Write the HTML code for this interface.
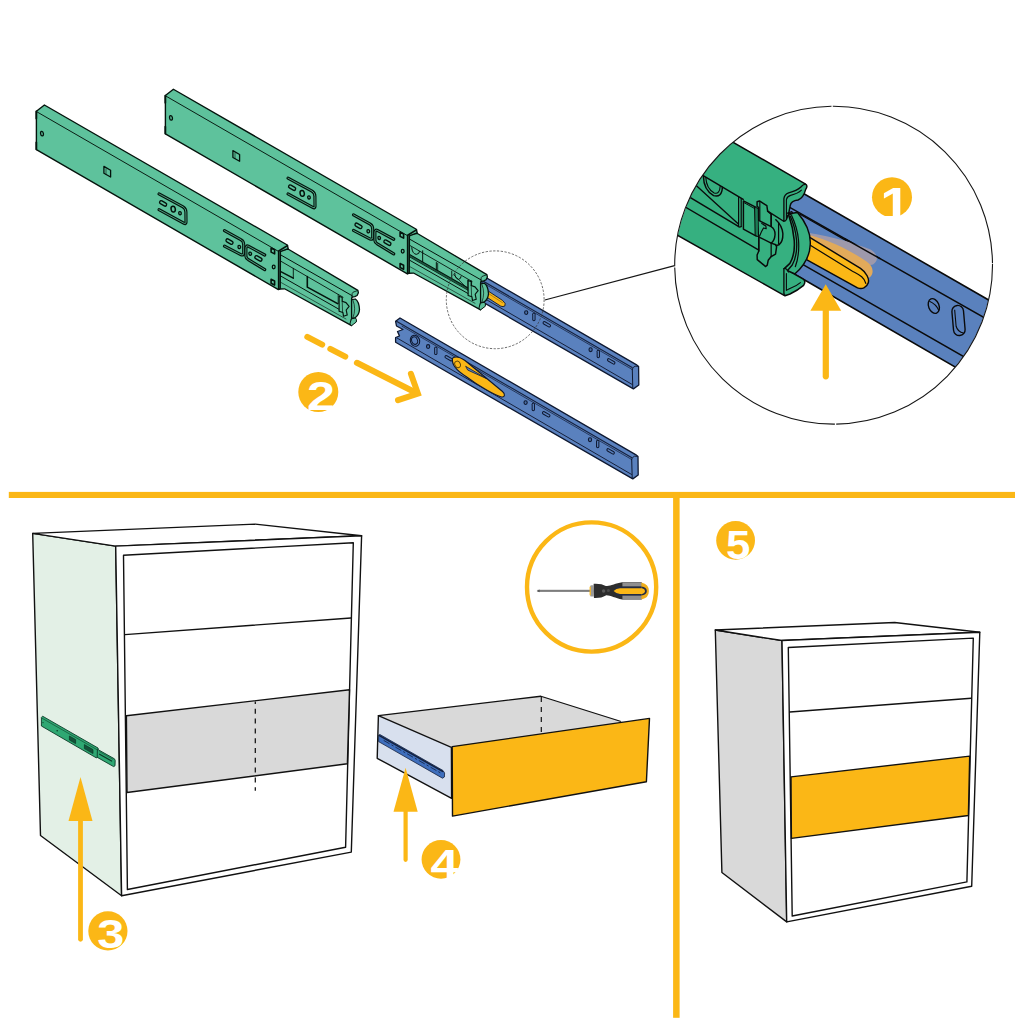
<!DOCTYPE html>
<html lang="en"><head><meta charset="utf-8"><title>Drawer slide installation</title>
<style>
html,body{margin:0;padding:0;background:#fff;}
body{width:1024px;height:1024px;overflow:hidden;font-family:"Liberation Sans",sans-serif;}
svg{display:block;}
.num{font-family:"Liberation Sans",sans-serif;font-weight:700;fill:#fff;}
</style></head><body>
<svg width="1024" height="1024" viewBox="0 0 1024 1024">
<rect width="1024" height="1024" fill="#fff"/>
<rect x="8.8" y="491.9" width="1006.2" height="6.1" fill="#FBB716"/>
<rect x="673.1" y="492" width="6.5" height="525.8" fill="#FBB716"/>
<g id="inner-rail-back" transform="translate(0.6,-90)">
<polygon points="400.00,318.00 635.60,454.60 638.00,456.60 638.20,475.00 632.80,478.90 395.60,342.20 395.60,337.50 399.50,336.00 397.50,331.50 403.00,329.50 396.50,326.00 395.60,321.30" fill="#5A81BE" stroke="#0e1830" stroke-width="1.3" stroke-linejoin="round" />
<polyline points="396.50,321.20 631.50,457.60" fill="none" stroke="#16213d" stroke-width="1.15" stroke-linejoin="round" stroke-linecap="round" />
<polyline points="402.00,326.20 631.50,459.40" fill="none" stroke="#16213d" stroke-width="0.75" stroke-linejoin="round" stroke-linecap="round" />
<polyline points="397.00,338.00 631.50,474.40" fill="none" stroke="#16213d" stroke-width="1.0" stroke-linejoin="round" stroke-linecap="round" />
<path d="M631.5 459.5 Q632 457.2 634.5 456.2 L637.6 456.4" fill="none" stroke="#0e1830" stroke-width="0.9" stroke-linejoin="round" stroke-linecap="round" />
<polyline points="631.70,459.50 632.20,478.20" fill="none" stroke="#0e1830" stroke-width="1.0" stroke-linejoin="round" stroke-linecap="round" />
<ellipse cx="590.00" cy="439.70" rx="1.6" ry="1.9" fill="#4a6fa8" stroke="#0e1830" stroke-width="1.1" transform="rotate(0 590.00 439.70)"/>
<line x1="597.70" y1="441.30" x2="597.70" y2="446.60" stroke="#0e1830" stroke-width="3.30" stroke-linecap="round"/>
<line x1="597.70" y1="441.30" x2="597.70" y2="446.60" stroke="#5A81BE" stroke-width="1.30" stroke-linecap="round"/>
<line x1="608.10" y1="449.96" x2="613.10" y2="452.84" stroke="#0e1830" stroke-width="3.50" stroke-linecap="round"/>
<line x1="608.10" y1="449.96" x2="613.10" y2="452.84" stroke="#5A81BE" stroke-width="1.50" stroke-linecap="round"/>
<ellipse cx="525.60" cy="402.60" rx="1.6" ry="1.9" fill="#4a6fa8" stroke="#0e1830" stroke-width="1.1" transform="rotate(0 525.60 402.60)"/>
<line x1="533.30" y1="404.20" x2="533.30" y2="409.50" stroke="#0e1830" stroke-width="3.30" stroke-linecap="round"/>
<line x1="533.30" y1="404.20" x2="533.30" y2="409.50" stroke="#5A81BE" stroke-width="1.30" stroke-linecap="round"/>
<line x1="543.70" y1="412.86" x2="548.70" y2="415.74" stroke="#0e1830" stroke-width="3.50" stroke-linecap="round"/>
<line x1="543.70" y1="412.86" x2="548.70" y2="415.74" stroke="#5A81BE" stroke-width="1.50" stroke-linecap="round"/>
<ellipse cx="428.10" cy="346.55" rx="1.6" ry="1.9" fill="#4a6fa8" stroke="#0e1830" stroke-width="1.1" transform="rotate(0 428.10 346.55)"/>
<line x1="435.80" y1="348.15" x2="435.80" y2="353.45" stroke="#0e1830" stroke-width="3.30" stroke-linecap="round"/>
<line x1="435.80" y1="348.15" x2="435.80" y2="353.45" stroke="#5A81BE" stroke-width="1.30" stroke-linecap="round"/>
<line x1="446.20" y1="356.81" x2="451.20" y2="359.69" stroke="#0e1830" stroke-width="3.50" stroke-linecap="round"/>
<line x1="446.20" y1="356.81" x2="451.20" y2="359.69" stroke="#5A81BE" stroke-width="1.50" stroke-linecap="round"/>
<ellipse cx="415.00" cy="340.80" rx="4.6" ry="5.6" fill="#5A81BE" stroke="#0e1830" stroke-width="1.1" transform="rotate(-20 415.00 340.80)"/>
<ellipse cx="414.60" cy="340.60" rx="2.9" ry="3.8" fill="#5A81BE" stroke="#0e1830" stroke-width="1.0" transform="rotate(-20 414.60 340.60)"/>
<path d="M480 376.6 L487.8 381.2 L501.9 390.4 Q505.8 393.6 504.4 395.8 Q502.6 397.2 500.2 396.2 L487.1 387.8 L480 383.6 Z" fill="#FBB716" stroke="#0e1830" stroke-width="0.9" stroke-linejoin="round" stroke-linecap="round" />
<polyline points="488.00,383.60 502.00,392.80" fill="none" stroke="#6b4d08" stroke-width="0.5" stroke-linejoin="round" stroke-linecap="round" />
</g>
<g id="slide-back" transform="translate(129,-15.75)">
<polygon points="279.50,250.50 288.00,249.00 357.90,290.40 358.40,292.80 357.10,295.50 354.80,296.70 352.40,297.00 351.60,298.60 351.60,325.60 284.50,288.80 279.50,289.00" fill="#5EC29C" stroke="#04130c" stroke-width="1.3" stroke-linejoin="round" />
<polyline points="279.80,254.40 352.30,295.80" fill="none" stroke="#04130c" stroke-width="1.0" stroke-linejoin="round" stroke-linecap="round" />
<polyline points="279.80,260.60 343.00,297.20" fill="none" stroke="#04130c" stroke-width="0.9" stroke-linejoin="round" stroke-linecap="round" />
<polyline points="279.80,275.50 341.30,310.60" fill="none" stroke="#04130c" stroke-width="1.0" stroke-linejoin="round" stroke-linecap="round" />
<polyline points="279.80,281.80 346.00,319.00" fill="none" stroke="#04130c" stroke-width="0.6" stroke-linejoin="round" stroke-linecap="round" />
<polygon points="279.75,269.81 341.31,304.97 341.31,307.31 279.75,272.16" fill="#2f8f69" stroke="none" stroke-width="1.1" stroke-linejoin="round" />
<polyline points="279.75,269.81 341.31,304.97" fill="none" stroke="#04130c" stroke-width="1.1" stroke-linejoin="round" stroke-linecap="round" />
<polyline points="279.75,272.16 341.31,307.31" fill="none" stroke="#04130c" stroke-width="0.8" stroke-linejoin="round" stroke-linecap="round" />
<polyline points="279.75,271.06 341.31,306.22" fill="none" stroke="#04130c" stroke-width="0.5" stroke-linejoin="round" stroke-linecap="round" />
<path d="M 282.72 263.41 Q 283.34 269.50 287.25 270.12 Q 290.53 269.81 290.53 267.16" fill="none" stroke="#04130c" stroke-width="1.0" stroke-linejoin="round" stroke-linecap="round" />
<path d="M 325.69 289.19 Q 326.31 294.66 329.59 295.12 Q 332.09 294.66 332.09 292.31" fill="none" stroke="#04130c" stroke-width="1.0" stroke-linejoin="round" stroke-linecap="round" />
<polyline points="293.66,266.53 293.66,277.47" fill="none" stroke="#04130c" stroke-width="1.0" stroke-linejoin="round" stroke-linecap="round" />
<polyline points="307.33,278.25 307.33,285.67" fill="none" stroke="#04130c" stroke-width="1.0" stroke-linejoin="round" stroke-linecap="round" />
<polyline points="308.66,279.03 308.66,286.45" fill="none" stroke="#04130c" stroke-width="0.8" stroke-linejoin="round" stroke-linecap="round" />
<polyline points="322.72,286.84 322.72,294.50" fill="none" stroke="#04130c" stroke-width="0.9" stroke-linejoin="round" stroke-linecap="round" />
<polyline points="324.91,290.75 337.41,303.25" fill="none" stroke="#04130c" stroke-width="0.8" stroke-linejoin="round" stroke-linecap="round" />
<polyline points="338.97,295.83 338.97,305.98" fill="none" stroke="#04130c" stroke-width="0.9" stroke-linejoin="round" stroke-linecap="round" />
<polyline points="342.25,297.16 342.25,308.09" fill="none" stroke="#04130c" stroke-width="1.6" stroke-linejoin="round" stroke-linecap="round" />
<polygon points="339.10,296.20 342.20,297.50 342.20,301.20 346.00,302.60 349.10,306.30 346.20,310.00 347.20,315.00 343.50,316.20 342.90,312.50 339.10,311.20" fill="#5EC29C" stroke="#04130c" stroke-width="1.2" stroke-linejoin="round" />
<polyline points="342.20,301.20 342.60,312.40" fill="none" stroke="#04130c" stroke-width="0.7" stroke-linejoin="round" stroke-linecap="round" />
<path d="M351.8 297.4 L352.2 293.4 Q352.6 292.2 354 291.8 L357.6 290.6" fill="none" stroke="#04130c" stroke-width="0.8" stroke-linejoin="round" stroke-linecap="round" />
<path d="M351.6 299.6 L355.4 299.0 Q359.0 301.4 359.5 309.4 Q359.2 314.6 355.4 317.6 L351.6 318.6 Z" fill="#5EC29C" stroke="#04130c" stroke-width="1.25" stroke-linejoin="round" stroke-linecap="round" />
<path d="M353.0 300.4 Q356.4 308.6 353.0 317.6" fill="none" stroke="#04130c" stroke-width="0.7" stroke-linejoin="round" stroke-linecap="round" />
<path d="M351.6 318.8 L355.5 318.0 Q357.0 319.4 356.3 322.0 L351.6 325.6 L350.2 324.4 Z" fill="#5EC29C" stroke="#04130c" stroke-width="1.0" stroke-linejoin="round" stroke-linecap="round" />
<polygon points="36.40,149.60 36.40,111.20 44.40,105.00 287.30,245.00 288.20,248.60 280.40,251.60 280.20,288.60 278.40,289.60" fill="#5EC29C" stroke="#04130c" stroke-width="1.4" stroke-linejoin="round" />
<polyline points="37.20,112.00 278.50,251.40" fill="none" stroke="#04130c" stroke-width="0.95" stroke-linejoin="round" stroke-linecap="round" />
<polyline points="287.40,245.60 278.70,251.00 278.70,289.20" fill="none" stroke="#04130c" stroke-width="1.7" stroke-linejoin="round" stroke-linecap="round" />
<polyline points="36.30,111.50 36.30,118.50" fill="none" stroke="#04130c" stroke-width="1.8" stroke-linejoin="round" stroke-linecap="round" />
<polyline points="36.30,142.50 36.30,149.30" fill="none" stroke="#04130c" stroke-width="1.8" stroke-linejoin="round" stroke-linecap="round" />
<ellipse cx="42.00" cy="133.60" rx="1.4" ry="2.3" fill="#5EC29C" stroke="#04130c" stroke-width="1.3" transform="rotate(-10 42.00 133.60)"/>
<polygon points="103.90,166.40 110.60,170.20 110.60,177.00 103.90,173.20" fill="#5EC29C" stroke="#04130c" stroke-width="1.3" stroke-linejoin="round" />
<polyline points="106.00,168.80 106.00,174.20" fill="none" stroke="#04130c" stroke-width="0.6" stroke-linejoin="round" stroke-linecap="round" />
<path d="M159.0 193.9 L183.0 206.8 Q185.9 208.5 185.9 212.0 L186.0 222.2 Q185.9 224.4 183.7 223.1 L159.0 209.7" fill="none" stroke="#04130c" stroke-width="3.15" stroke-linecap="round" stroke-linejoin="round"/>
<path d="M159.0 193.9 L183.0 206.8 Q185.9 208.5 185.9 212.0 L186.0 222.2 Q185.9 224.4 183.7 223.1 L159.0 209.7" fill="none" stroke="#5EC29C" stroke-width="0.8" stroke-linecap="round" stroke-linejoin="round"/>
<line x1="161.15" y1="202.27" x2="165.05" y2="204.53" stroke="#04130c" stroke-width="4.50" stroke-linecap="round"/>
<line x1="161.15" y1="202.27" x2="165.05" y2="204.53" stroke="#5EC29C" stroke-width="1.80" stroke-linecap="round"/>
<ellipse cx="173.20" cy="209.10" rx="2.1" ry="2.9" fill="#5EC29C" stroke="#04130c" stroke-width="1.5" transform="rotate(-12 173.20 209.10)"/>
<ellipse cx="180.00" cy="213.20" rx="1.3" ry="1.6" fill="#5EC29C" stroke="#04130c" stroke-width="1.35" transform="rotate(-12 180.00 213.20)"/>
<path d="M224.5 230.6 L241.2 239.8 Q243.7 241.2 243.7 244.7 L243.7 253.3 Q243.6 255.6 241.2 254.8 L224.5 246.2" fill="none" stroke="#04130c" stroke-width="3.15" stroke-linecap="round" stroke-linejoin="round"/>
<path d="M224.5 230.6 L241.2 239.8 Q243.7 241.2 243.7 244.7 L243.7 253.3 Q243.6 255.6 241.2 254.8 L224.5 246.2" fill="none" stroke="#5EC29C" stroke-width="0.8" stroke-linecap="round" stroke-linejoin="round"/>
<path d="M264.7 255.0 L248.3 246.2 Q246.0 245.1 245.9 248.6 L245.9 256.4 Q246.0 258.4 248.3 259.6 L264.7 269.6" fill="none" stroke="#04130c" stroke-width="3.15" stroke-linecap="round" stroke-linejoin="round"/>
<path d="M264.7 255.0 L248.3 246.2 Q246.0 245.1 245.9 248.6 L245.9 256.4 Q246.0 258.4 248.3 259.6 L264.7 269.6" fill="none" stroke="#5EC29C" stroke-width="0.8" stroke-linecap="round" stroke-linejoin="round"/>
<line x1="227.55" y1="240.47" x2="231.45" y2="242.73" stroke="#04130c" stroke-width="4.50" stroke-linecap="round"/>
<line x1="227.55" y1="240.47" x2="231.45" y2="242.73" stroke="#5EC29C" stroke-width="1.80" stroke-linecap="round"/>
<ellipse cx="239.30" cy="247.00" rx="1.3" ry="1.6" fill="#5EC29C" stroke="#04130c" stroke-width="1.35" transform="rotate(-12 239.30 247.00)"/>
<ellipse cx="250.20" cy="253.70" rx="1.3" ry="1.6" fill="#5EC29C" stroke="#04130c" stroke-width="1.35" transform="rotate(-12 250.20 253.70)"/>
<line x1="256.45" y1="257.27" x2="260.35" y2="259.53" stroke="#04130c" stroke-width="4.50" stroke-linecap="round"/>
<line x1="256.45" y1="257.27" x2="260.35" y2="259.53" stroke="#5EC29C" stroke-width="1.80" stroke-linecap="round"/>
<polygon points="271.10,248.00 274.60,249.80 274.60,253.90 271.10,252.10" fill="#5EC29C" stroke="#04130c" stroke-width="1.6" stroke-linejoin="round" />
<ellipse cx="273.70" cy="267.00" rx="1.4" ry="1.8" fill="#5EC29C" stroke="#04130c" stroke-width="1.3" transform="rotate(0 273.70 267.00)"/>
<polygon points="271.10,279.30 274.60,281.00 274.60,285.10 271.10,283.30" fill="#5EC29C" stroke="#04130c" stroke-width="1.6" stroke-linejoin="round" />
</g>
<g id="slide-front" transform="translate(0,0)">
<polygon points="279.50,250.50 288.00,249.00 357.90,290.40 358.40,292.80 357.10,295.50 354.80,296.70 352.40,297.00 351.60,298.60 351.60,325.60 284.50,288.80 279.50,289.00" fill="#5EC29C" stroke="#04130c" stroke-width="1.3" stroke-linejoin="round" />
<polyline points="279.80,254.40 352.30,295.80" fill="none" stroke="#04130c" stroke-width="1.0" stroke-linejoin="round" stroke-linecap="round" />
<polyline points="279.80,260.60 343.00,297.20" fill="none" stroke="#04130c" stroke-width="0.9" stroke-linejoin="round" stroke-linecap="round" />
<polyline points="279.80,275.50 341.30,310.60" fill="none" stroke="#04130c" stroke-width="1.0" stroke-linejoin="round" stroke-linecap="round" />
<polyline points="279.80,281.80 346.00,319.00" fill="none" stroke="#04130c" stroke-width="0.6" stroke-linejoin="round" stroke-linecap="round" />
<polyline points="279.80,271.20 293.30,278.10" fill="none" stroke="#04130c" stroke-width="1.5" stroke-linejoin="round" stroke-linecap="round" />
<polyline points="293.30,278.10 293.30,268.30" fill="none" stroke="#04130c" stroke-width="0.9" stroke-linejoin="round" stroke-linecap="round" />
<polyline points="338.20,294.60 338.20,303.60" fill="none" stroke="#04130c" stroke-width="0.8" stroke-linejoin="round" stroke-linecap="round" />
<polyline points="307.30,276.60 307.30,287.10 337.60,303.60" fill="none" stroke="#04130c" stroke-width="1.6" stroke-linejoin="round" stroke-linecap="round" />
<polygon points="339.10,296.20 342.20,297.50 342.20,301.20 346.00,302.60 349.10,306.30 346.20,310.00 347.20,315.00 343.50,316.20 342.90,312.50 339.10,311.20" fill="#5EC29C" stroke="#04130c" stroke-width="1.2" stroke-linejoin="round" />
<polyline points="342.20,301.20 342.60,312.40" fill="none" stroke="#04130c" stroke-width="0.7" stroke-linejoin="round" stroke-linecap="round" />
<path d="M351.8 297.4 L352.2 293.4 Q352.6 292.2 354 291.8 L357.6 290.6" fill="none" stroke="#04130c" stroke-width="0.8" stroke-linejoin="round" stroke-linecap="round" />
<path d="M351.6 299.6 L355.4 299.0 Q359.0 301.4 359.5 309.4 Q359.2 314.6 355.4 317.6 L351.6 318.6 Z" fill="#5EC29C" stroke="#04130c" stroke-width="1.25" stroke-linejoin="round" stroke-linecap="round" />
<path d="M353.0 300.4 Q356.4 308.6 353.0 317.6" fill="none" stroke="#04130c" stroke-width="0.7" stroke-linejoin="round" stroke-linecap="round" />
<path d="M351.6 318.8 L355.5 318.0 Q357.0 319.4 356.3 322.0 L351.6 325.6 L350.2 324.4 Z" fill="#5EC29C" stroke="#04130c" stroke-width="1.0" stroke-linejoin="round" stroke-linecap="round" />
<polygon points="36.40,149.60 36.40,111.20 44.40,105.00 287.30,245.00 288.20,248.60 280.40,251.60 280.20,288.60 278.40,289.60" fill="#5EC29C" stroke="#04130c" stroke-width="1.4" stroke-linejoin="round" />
<polyline points="37.20,112.00 278.50,251.40" fill="none" stroke="#04130c" stroke-width="0.95" stroke-linejoin="round" stroke-linecap="round" />
<polyline points="287.40,245.60 278.70,251.00 278.70,289.20" fill="none" stroke="#04130c" stroke-width="1.7" stroke-linejoin="round" stroke-linecap="round" />
<polyline points="36.30,111.50 36.30,118.50" fill="none" stroke="#04130c" stroke-width="1.8" stroke-linejoin="round" stroke-linecap="round" />
<polyline points="36.30,142.50 36.30,149.30" fill="none" stroke="#04130c" stroke-width="1.8" stroke-linejoin="round" stroke-linecap="round" />
<ellipse cx="42.00" cy="133.60" rx="1.4" ry="2.3" fill="#5EC29C" stroke="#04130c" stroke-width="1.3" transform="rotate(-10 42.00 133.60)"/>
<polygon points="103.90,166.40 110.60,170.20 110.60,177.00 103.90,173.20" fill="#5EC29C" stroke="#04130c" stroke-width="1.3" stroke-linejoin="round" />
<polyline points="106.00,168.80 106.00,174.20" fill="none" stroke="#04130c" stroke-width="0.6" stroke-linejoin="round" stroke-linecap="round" />
<path d="M159.0 193.9 L183.0 206.8 Q185.9 208.5 185.9 212.0 L186.0 222.2 Q185.9 224.4 183.7 223.1 L159.0 209.7" fill="none" stroke="#04130c" stroke-width="3.15" stroke-linecap="round" stroke-linejoin="round"/>
<path d="M159.0 193.9 L183.0 206.8 Q185.9 208.5 185.9 212.0 L186.0 222.2 Q185.9 224.4 183.7 223.1 L159.0 209.7" fill="none" stroke="#5EC29C" stroke-width="0.8" stroke-linecap="round" stroke-linejoin="round"/>
<line x1="161.15" y1="202.27" x2="165.05" y2="204.53" stroke="#04130c" stroke-width="4.50" stroke-linecap="round"/>
<line x1="161.15" y1="202.27" x2="165.05" y2="204.53" stroke="#5EC29C" stroke-width="1.80" stroke-linecap="round"/>
<ellipse cx="173.20" cy="209.10" rx="2.1" ry="2.9" fill="#5EC29C" stroke="#04130c" stroke-width="1.5" transform="rotate(-12 173.20 209.10)"/>
<ellipse cx="180.00" cy="213.20" rx="1.3" ry="1.6" fill="#5EC29C" stroke="#04130c" stroke-width="1.35" transform="rotate(-12 180.00 213.20)"/>
<path d="M224.5 230.6 L241.2 239.8 Q243.7 241.2 243.7 244.7 L243.7 253.3 Q243.6 255.6 241.2 254.8 L224.5 246.2" fill="none" stroke="#04130c" stroke-width="3.15" stroke-linecap="round" stroke-linejoin="round"/>
<path d="M224.5 230.6 L241.2 239.8 Q243.7 241.2 243.7 244.7 L243.7 253.3 Q243.6 255.6 241.2 254.8 L224.5 246.2" fill="none" stroke="#5EC29C" stroke-width="0.8" stroke-linecap="round" stroke-linejoin="round"/>
<path d="M264.7 255.0 L248.3 246.2 Q246.0 245.1 245.9 248.6 L245.9 256.4 Q246.0 258.4 248.3 259.6 L264.7 269.6" fill="none" stroke="#04130c" stroke-width="3.15" stroke-linecap="round" stroke-linejoin="round"/>
<path d="M264.7 255.0 L248.3 246.2 Q246.0 245.1 245.9 248.6 L245.9 256.4 Q246.0 258.4 248.3 259.6 L264.7 269.6" fill="none" stroke="#5EC29C" stroke-width="0.8" stroke-linecap="round" stroke-linejoin="round"/>
<line x1="227.55" y1="240.47" x2="231.45" y2="242.73" stroke="#04130c" stroke-width="4.50" stroke-linecap="round"/>
<line x1="227.55" y1="240.47" x2="231.45" y2="242.73" stroke="#5EC29C" stroke-width="1.80" stroke-linecap="round"/>
<ellipse cx="239.30" cy="247.00" rx="1.3" ry="1.6" fill="#5EC29C" stroke="#04130c" stroke-width="1.35" transform="rotate(-12 239.30 247.00)"/>
<ellipse cx="250.20" cy="253.70" rx="1.3" ry="1.6" fill="#5EC29C" stroke="#04130c" stroke-width="1.35" transform="rotate(-12 250.20 253.70)"/>
<line x1="256.45" y1="257.27" x2="260.35" y2="259.53" stroke="#04130c" stroke-width="4.50" stroke-linecap="round"/>
<line x1="256.45" y1="257.27" x2="260.35" y2="259.53" stroke="#5EC29C" stroke-width="1.80" stroke-linecap="round"/>
<polygon points="271.10,248.00 274.60,249.80 274.60,253.90 271.10,252.10" fill="#5EC29C" stroke="#04130c" stroke-width="1.6" stroke-linejoin="round" />
<ellipse cx="273.70" cy="267.00" rx="1.4" ry="1.8" fill="#5EC29C" stroke="#04130c" stroke-width="1.3" transform="rotate(0 273.70 267.00)"/>
<polygon points="271.10,279.30 274.60,281.00 274.60,285.10 271.10,283.30" fill="#5EC29C" stroke="#04130c" stroke-width="1.6" stroke-linejoin="round" />
</g>
<g id="inner-rail-front" transform="translate(0,0)">
<polygon points="400.00,318.00 635.60,454.60 638.00,456.60 638.20,475.00 632.80,478.90 395.60,342.20 395.60,337.50 399.50,336.00 397.50,331.50 403.00,329.50 396.50,326.00 395.60,321.30" fill="#5A81BE" stroke="#0e1830" stroke-width="1.3" stroke-linejoin="round" />
<polyline points="396.50,321.20 631.50,457.60" fill="none" stroke="#16213d" stroke-width="1.15" stroke-linejoin="round" stroke-linecap="round" />
<polyline points="402.00,326.20 631.50,459.40" fill="none" stroke="#16213d" stroke-width="0.75" stroke-linejoin="round" stroke-linecap="round" />
<polyline points="397.00,338.00 631.50,474.40" fill="none" stroke="#16213d" stroke-width="1.0" stroke-linejoin="round" stroke-linecap="round" />
<path d="M631.5 459.5 Q632 457.2 634.5 456.2 L637.6 456.4" fill="none" stroke="#0e1830" stroke-width="0.9" stroke-linejoin="round" stroke-linecap="round" />
<polyline points="631.70,459.50 632.20,478.20" fill="none" stroke="#0e1830" stroke-width="1.0" stroke-linejoin="round" stroke-linecap="round" />
<ellipse cx="590.00" cy="439.70" rx="1.6" ry="1.9" fill="#4a6fa8" stroke="#0e1830" stroke-width="1.1" transform="rotate(0 590.00 439.70)"/>
<line x1="597.70" y1="441.30" x2="597.70" y2="446.60" stroke="#0e1830" stroke-width="3.30" stroke-linecap="round"/>
<line x1="597.70" y1="441.30" x2="597.70" y2="446.60" stroke="#5A81BE" stroke-width="1.30" stroke-linecap="round"/>
<line x1="608.10" y1="449.96" x2="613.10" y2="452.84" stroke="#0e1830" stroke-width="3.50" stroke-linecap="round"/>
<line x1="608.10" y1="449.96" x2="613.10" y2="452.84" stroke="#5A81BE" stroke-width="1.50" stroke-linecap="round"/>
<ellipse cx="525.60" cy="402.60" rx="1.6" ry="1.9" fill="#4a6fa8" stroke="#0e1830" stroke-width="1.1" transform="rotate(0 525.60 402.60)"/>
<line x1="533.30" y1="404.20" x2="533.30" y2="409.50" stroke="#0e1830" stroke-width="3.30" stroke-linecap="round"/>
<line x1="533.30" y1="404.20" x2="533.30" y2="409.50" stroke="#5A81BE" stroke-width="1.30" stroke-linecap="round"/>
<line x1="543.70" y1="412.86" x2="548.70" y2="415.74" stroke="#0e1830" stroke-width="3.50" stroke-linecap="round"/>
<line x1="543.70" y1="412.86" x2="548.70" y2="415.74" stroke="#5A81BE" stroke-width="1.50" stroke-linecap="round"/>
<ellipse cx="428.10" cy="346.55" rx="1.6" ry="1.9" fill="#4a6fa8" stroke="#0e1830" stroke-width="1.1" transform="rotate(0 428.10 346.55)"/>
<line x1="435.80" y1="348.15" x2="435.80" y2="353.45" stroke="#0e1830" stroke-width="3.30" stroke-linecap="round"/>
<line x1="435.80" y1="348.15" x2="435.80" y2="353.45" stroke="#5A81BE" stroke-width="1.30" stroke-linecap="round"/>
<line x1="446.20" y1="356.81" x2="451.20" y2="359.69" stroke="#0e1830" stroke-width="3.50" stroke-linecap="round"/>
<line x1="446.20" y1="356.81" x2="451.20" y2="359.69" stroke="#5A81BE" stroke-width="1.50" stroke-linecap="round"/>
<ellipse cx="415.00" cy="340.80" rx="4.6" ry="5.6" fill="#5A81BE" stroke="#0e1830" stroke-width="1.1" transform="rotate(-20 415.00 340.80)"/>
<ellipse cx="414.60" cy="340.60" rx="2.9" ry="3.8" fill="#5A81BE" stroke="#0e1830" stroke-width="1.0" transform="rotate(-20 414.60 340.60)"/>
<path d="M452.6 358.2 C455.5 355.8 460.5 357.5 465 360.5 L502.5 391.5 C505.5 394 505 397.5 501.5 397 C495 395.5 478 385.5 466 376.5 C458 371.5 451 365 452.6 358.2 Z" fill="#FBB716" stroke="#0e1830" stroke-width="1.1" stroke-linejoin="round" stroke-linecap="round" />
<ellipse cx="457.60" cy="364.40" rx="2.7" ry="3.4" fill="#FBB716" stroke="#5a4208" stroke-width="0.9" transform="rotate(-25 457.60 364.40)"/>
<path d="M466 366.5 L487 378.8 L468 370.2 Z" fill="#5A81BE" stroke="#0e1830" stroke-width="0.8" stroke-linejoin="round" stroke-linecap="round" />
</g>
<circle cx="495.2" cy="299.8" r="48.9" fill="none" stroke="#3a3a3a" stroke-width="0.75" stroke-dasharray="2.3 1.5"/>
<line x1="544.8" y1="300" x2="674.6" y2="265.7" stroke="#151515" stroke-width="1.2"/>
<g id="arrow2" stroke="#FBB716" stroke-width="6" stroke-linecap="round" fill="none">
<line x1="307.3" y1="336.9" x2="322.2" y2="344.7"/>
<line x1="330.3" y1="348.8" x2="345.3" y2="356.6"/>
<line x1="356.9" y1="362.8" x2="416" y2="392.8"/>
<polyline points="410.9,373.8 417.9,393.6 398,400.2" stroke-linejoin="miter"/>
</g>
<defs><clipPath id="dc"><circle cx="833.6" cy="265.2" r="158.6"/></clipPath></defs>
<circle cx="833.6" cy="265.2" r="158.9" fill="#fff"/>
<g id="detail" clip-path="url(#dc)">
<polygon points="780.00,180.00 1000.00,306.50 1000.00,393.00 780.00,265.70" fill="#5A81BD" stroke="#0a0a0a" stroke-width="1.59" stroke-linejoin="round" />
<polyline points="788.00,206.40 1000.00,326.60" fill="none" stroke="#0a0a0a" stroke-width="1.46" stroke-linejoin="round" stroke-linecap="round" />
<polyline points="800.00,214.20 862.00,249.60" fill="none" stroke="#0a0a0a" stroke-width="1.22" stroke-linejoin="round" stroke-linecap="round" />
<polyline points="800.00,262.80 1000.00,377.40" fill="none" stroke="#0a0a0a" stroke-width="1.46" stroke-linejoin="round" stroke-linecap="round" />
<g transform="rotate(-22 933.8 306)"><ellipse cx="933.8" cy="306" rx="5.2" ry="7.6" fill="#5A81BD" stroke="#0a0a0a" stroke-width="1.4"/><path d="M931.5 300 Q936.5 305 936.8 312" fill="none" stroke="#0a0a0a" stroke-width="1.1"/></g>
<g transform="rotate(-5 958.4 320.4)"><rect x="952.7" y="305.4" width="11.6" height="30.2" rx="5.8" fill="#5A81BD" stroke="#0a0a0a" stroke-width="1.4"/><path d="M955.6 309.5 L955.6 326 Q956.8 332 962.4 333.4" fill="none" stroke="#0a0a0a" stroke-width="1.1"/></g>
<path d="M809.5 233.0 C832 236.5 856 243.5 870.5 249.5 C877.5 253.5 879.5 260.5 873.0 264.6 C868 266 862 262 850 256 L809.5 240 Z" fill="#9e99ab" stroke="none" stroke-width="1.0" stroke-linejoin="round" stroke-linecap="round" />
<path d="M809.5 235.0 C832 241 852 251.5 866.5 261.5 C873.5 266 874.5 273.5 869.5 277.6 C865 279.5 859 276 850 270 L809.5 246 Z" fill="#e2aa5a" stroke="none" stroke-width="1.0" stroke-linejoin="round" stroke-linecap="round" />
<polyline points="845.00,238.80 880.00,258.60" fill="none" stroke="#0a0a0a" stroke-width="1.46" stroke-linejoin="round" stroke-linecap="round" />
<path d="M808.5 236.6 L860.5 268.4 C866.5 272.5 869.6 279 868.2 283 C866.6 287.6 862 289.8 857.5 287.8 L806.5 259.6 Z" fill="#FBB716" stroke="#0a0a0a" stroke-width="1.46" stroke-linejoin="round" stroke-linecap="round" />
<path d="M809.5 244.8 L852.5 271.2 C858.5 274.5 864.5 277 865.8 283.4" fill="none" stroke="#0a0a0a" stroke-width="1.22" stroke-linejoin="round" stroke-linecap="round" />
<path d="M660 100.2 L805.2 183.8 Q808.4 185.6 805.6 189.6 Q803.6 197.6 798 200 Q791 200.6 790.2 205.6 L788.6 213.8 L797.5 212.5 Q811.5 229 810.2 245 Q809.5 261 795 273.8 L787.5 270.6 L794 273.8 L802.4 278.6 Q806.6 281.0 803.6 285.4 Q798 290.2 790 294 L785 295.8 L660 225.5 Z" fill="#36B080" stroke="#0a0a0a" stroke-width="1.45" stroke-linejoin="round" stroke-linecap="round" />
<path d="M783.9 220.6 L783.9 198.6 Q784.4 194.4 788.6 192.8 Q797 190.6 800.6 187.2 Q803 184.4 805.4 184.2" fill="none" stroke="#0a0a0a" stroke-width="1.34" stroke-linejoin="round" stroke-linecap="round" />
<path d="M786.4 219.4 L786.4 199.6 Q787 196.4 790.6 195.4 Q798 193.6 801.4 190.2" fill="none" stroke="#0a0a0a" stroke-width="1.1" stroke-linejoin="round" stroke-linecap="round" />
<path d="M783.9 220.6 Q785 222 786.6 219.2 L788.6 213.8" fill="none" stroke="#0a0a0a" stroke-width="1.22" stroke-linejoin="round" stroke-linecap="round" />
<path d="M783.9 268.6 L783.9 293.4 Q784 295.6 785.6 295.4" fill="none" stroke="#0a0a0a" stroke-width="1.34" stroke-linejoin="round" stroke-linecap="round" />
<path d="M786.4 273.6 L786.4 290.4 Q788 289.4 791 288.0 Q797 285.6 800.4 282.6" fill="none" stroke="#0a0a0a" stroke-width="1.1" stroke-linejoin="round" stroke-linecap="round" />
<path d="M783.9 268.6 Q786 267.6 788.6 272" fill="none" stroke="#0a0a0a" stroke-width="1.22" stroke-linejoin="round" stroke-linecap="round" />
<path d="M 789.12 216.56 Q 793.03 227.50 794.20 240.00 Q 795.38 254.06 789.91 263.44 L 784.83 268.12" fill="none" stroke="#0a0a0a" stroke-width="1.59" stroke-linejoin="round" stroke-linecap="round" />
<path d="M 790.30 216.17 Q 795.38 227.50 796.55 240.00 Q 797.72 254.84 792.25 265.00 L 787.95 270.00" fill="none" stroke="#0a0a0a" stroke-width="1.34" stroke-linejoin="round" stroke-linecap="round" />
<path d="M 791.62 215.62 Q 797.33 227.50 798.50 240.00 Q 799.67 254.84 795.38 266.56" fill="none" stroke="#0a0a0a" stroke-width="1.22" stroke-linejoin="round" stroke-linecap="round" />
<path d="M 786.78 213.44 L 791.86 211.72 L 792.64 213.44 L 787.56 215.78" fill="none" stroke="#0a0a0a" stroke-width="1.34" stroke-linejoin="round" stroke-linecap="round" />
<polyline points="660.00,150.60 703.20,175.60 743.20,199.40" fill="none" stroke="#0a0a0a" stroke-width="1.46" stroke-linejoin="round" stroke-linecap="round" />
<polyline points="660.00,179.40 738.40,226.40" fill="none" stroke="#0a0a0a" stroke-width="1.46" stroke-linejoin="round" stroke-linecap="round" />
<polyline points="694.00,183.40 738.40,224.00" fill="none" stroke="#0a0a0a" stroke-width="1.34" stroke-linejoin="round" stroke-linecap="round" />
<polyline points="660.00,192.20 758.40,249.80" fill="none" stroke="#0a0a0a" stroke-width="1.46" stroke-linejoin="round" stroke-linecap="round" />
<path d="M738.6 197.2 L738.6 226.6 M741.2 198.6 L741.2 226.6" fill="none" stroke="#0a0a0a" stroke-width="1.22" stroke-linejoin="round" stroke-linecap="round" />
<path d="M738.4 226.4 Q739.6 227.6 741.2 226.6" fill="none" stroke="#0a0a0a" stroke-width="1.22" stroke-linejoin="round" stroke-linecap="round" />
<path d="M703.4 176 Q703.6 190 713.6 195.6 Q721.8 198 722.4 187.2" fill="none" stroke="#0a0a0a" stroke-width="1.46" stroke-linejoin="round" stroke-linecap="round" />
<path d="M705.8 177.6 Q706.4 188.6 714.2 193.0 Q719.6 194.8 720.2 186.2" fill="none" stroke="#0a0a0a" stroke-width="1.1" stroke-linejoin="round" stroke-linecap="round" />
<polygon points="743.42,200.94 755.14,206.80 756.31,236.09 743.42,229.06" fill="#36B080" stroke="#0a0a0a" stroke-width="1.46" stroke-linejoin="round" />
<polygon points="754.59,206.72 758.34,208.75 758.50,236.88 755.14,235.31" fill="#1b7d55" stroke="#0a0a0a" stroke-width="0.98" stroke-linejoin="round" />
<polyline points="744.44,202.89 754.75,208.59" fill="none" stroke="#0a0a0a" stroke-width="0.98" stroke-linejoin="round" stroke-linecap="round" />
<polygon points="757.09,201.72 759.44,200.94 766.86,205.62 767.64,211.09 771.16,214.22 771.16,243.12 775.84,244.69 776.62,246.64 775.53,254.06 771.16,256.56 768.19,260.31 767.25,265.16 765.69,266.56 757.25,259.69 757.09,255.00 758.81,250.94 758.66,207.34 757.09,206.56" fill="#36B080" stroke="#0a0a0a" stroke-width="1.46" stroke-linejoin="round" />
<polyline points="759.83,201.72 759.83,220.47" fill="none" stroke="#0a0a0a" stroke-width="1.1" stroke-linejoin="round" stroke-linecap="round" />
<polyline points="771.16,214.22 771.16,256.56" fill="none" stroke="#0a0a0a" stroke-width="1.22" stroke-linejoin="round" stroke-linecap="round" />
<polyline points="758.81,236.88 758.81,250.94" fill="none" stroke="#0a0a0a" stroke-width="1.22" stroke-linejoin="round" stroke-linecap="round" />
<path d="M 758.66 220.47 L 771.16 226.72 Q 775.06 229.06 775.06 234.53 Q 774.67 240.78 771.16 243.12 L 759.12 237.03" fill="#36B080" stroke="#0a0a0a" stroke-width="1.46" stroke-linejoin="round" stroke-linecap="round" />
<path d="M 761.78 223.59 L 765.84 225.94 L 766.16 228.75 L 763.50 227.97 Q 761.78 230.62 759.59 236.09" fill="none" stroke="#0a0a0a" stroke-width="1.22" stroke-linejoin="round" stroke-linecap="round" />
<polyline points="767.64,211.09 783.66,221.25" fill="none" stroke="#0a0a0a" stroke-width="1.46" stroke-linejoin="round" stroke-linecap="round" />
<path d="M 775.84 219.69 Q 782.09 225.16 782.88 233.75 Q 783.03 241.56 779.12 244.69 L 776.00 245.62" fill="none" stroke="#0a0a0a" stroke-width="1.46" stroke-linejoin="round" stroke-linecap="round" />
<path d="M 778.58 222.81 L 778.58 244.06" fill="none" stroke="#0a0a0a" stroke-width="1.22" stroke-linejoin="round" stroke-linecap="round" />
</g>
<line x1="825.8" y1="308" x2="825.8" y2="376.3" stroke="#FBB716" stroke-width="6.2" stroke-linecap="round"/>
<polygon points="825.7,284.2 841.2,310.8 810.4,310.8" fill="#FBB716"/>
<circle cx="833.6" cy="265.2" r="158.9" fill="none" stroke="#151515" stroke-width="1.1" stroke-dasharray="248.4 1.35" stroke-dashoffset="-0.7" transform="rotate(-0.8 833.6 265.2)"/>
<polygon points="32.70,533.40 115.70,546.10 121.60,895.70 40.50,835.50" fill="#E3F0E6" stroke="#111" stroke-width="1.4" stroke-linejoin="round" />
<polygon points="32.70,533.40 255.20,524.10 361.60,535.80 115.70,546.10" fill="#fff" stroke="#111" stroke-width="1.4" stroke-linejoin="round" />
<polygon points="115.70,546.10 361.60,535.80 351.30,852.10 121.60,895.70" fill="#fff" stroke="#111" stroke-width="1.4" stroke-linejoin="round" />
<polygon points="123.50,555.30 353.30,542.70 345.60,847.20 127.40,889.50" fill="#fff" stroke="#111" stroke-width="1.4" stroke-linejoin="round" />
<polygon points="126.40,715.80 349.50,689.70 347.40,763.80 127.00,792.50" fill="#D9D9D9" stroke="#111" stroke-width="1.4" stroke-linejoin="round" />
<polyline points="124.90,634.60 350.90,618.00" fill="none" stroke="#111" stroke-width="1.4" stroke-linejoin="round" stroke-linecap="round" />
<polyline points="255.30,701.50 255.30,790.80" fill="none" stroke="#111" stroke-width="1.25" stroke-linejoin="round" stroke-linecap="butt" stroke-dasharray="5 4.8" stroke-dashoffset="2.5"/>
<g id="side-rail">
<polygon points="41.40,717.40 42.60,716.20 98.00,748.00 98.40,749.80 114.40,758.80 115.20,760.40 115.00,765.80 113.60,766.60 97.40,757.40 96.20,757.80 41.40,726.00" fill="#2FA873" stroke="#0b3a27" stroke-width="0.9" stroke-linejoin="round" />
<polyline points="42.40,718.40 97.40,749.90" fill="none" stroke="#0b3a27" stroke-width="0.6" stroke-linejoin="round" stroke-linecap="round" />
<polyline points="97.40,749.60 97.20,757.40" fill="none" stroke="#0b3a27" stroke-width="0.9" stroke-linejoin="round" stroke-linecap="round" />
<polygon points="69.40,736.00 75.60,739.60 75.60,743.60 69.40,740.00" fill="#14523a" stroke="#0b3a27" stroke-width="0.7" stroke-linejoin="round" />
<polygon points="84.40,744.60 93.00,749.60 93.00,753.60 84.40,748.60" fill="#14523a" stroke="#0b3a27" stroke-width="0.7" stroke-linejoin="round" />
<polyline points="99.60,754.20 111.60,761.00" fill="none" stroke="#0b3a27" stroke-width="1.3" stroke-linejoin="round" stroke-linecap="round" />
<polyline points="99.60,751.80 113.00,759.40" fill="none" stroke="#0b3a27" stroke-width="0.5" stroke-linejoin="round" stroke-linecap="round" />
<circle cx="57.2" cy="730.8" r="0.8" fill="#0b3a27"/>
<circle cx="43" cy="722.6" r="0.6" fill="#0b3a27"/>
</g>
<line x1="80.5" y1="815" x2="80.5" y2="939.3" stroke="#FBB716" stroke-width="4.8" stroke-linecap="round"/>
<polygon points="80.5,776.9 92.5,821 68.5,821" fill="#FBB716"/>
<polygon points="378.40,715.60 540.90,696.25 649.50,730.00 452.00,747.00" fill="#D9D9D9" stroke="none" stroke-width="1.1" stroke-linejoin="round" />
<polyline points="378.40,715.60 540.90,696.25 620.30,721.25" fill="none" stroke="#111" stroke-width="1.3" stroke-linejoin="round" stroke-linecap="round" />
<polyline points="541.30,696.90 541.30,733.60" fill="none" stroke="#111" stroke-width="1.2" stroke-linejoin="round" stroke-linecap="butt" stroke-dasharray="5 5"/>
<polygon points="378.40,715.60 451.40,747.30 451.60,798.40 377.20,758.30" fill="#D8E0EE" stroke="#111" stroke-width="1.4" stroke-linejoin="round" />
<polygon points="452.20,746.60 649.50,718.40 646.40,781.70 452.50,816.10" fill="#FBB716" stroke="#111" stroke-width="1.4" stroke-linejoin="round" />
<g id="drawer-rail">
<polygon points="378.60,735.00 380.00,734.60 443.00,770.50 444.60,773.00 444.40,777.00 442.50,778.20 378.60,741.60" fill="#3F6FBD" stroke="#14213d" stroke-width="0.8" stroke-linejoin="round" />
<polyline points="379.40,735.60 442.60,771.40" fill="none" stroke="#14213d" stroke-width="1.5" stroke-linejoin="round" stroke-linecap="round" />
<polyline points="384.00,740.60 440.00,772.60" fill="none" stroke="#14213d" stroke-width="0.8" stroke-linejoin="round" stroke-linecap="round" stroke-dasharray="6 3 1.5 3"/>
</g>
<line x1="405.6" y1="808" x2="405.6" y2="859.8" stroke="#FBB716" stroke-width="4.2" stroke-linecap="round"/>
<polygon points="405.6,767.7 417.7,811.7 393.5,811.7" fill="#FBB716"/>
<circle cx="591.6" cy="587" r="64.6" fill="#fff" stroke="#FBB716" stroke-width="4.4"/>
<g id="screwdriver">
<rect x="537.6" y="589.8" width="53" height="2.1" fill="#7d7d7d"/>
<path d="M536.6 590.9 L539.6 589.6 L539.6 592.2 Z" fill="#5a5a5a"/>
<path d="M593.7 583.8 Q601.5 583.4 605.8 585.9 C610 586.6 615 583.4 622.2 582.3 L641.7 582.3 L641.7 599.5 L622.2 599.5 C615 598.4 610 595.0 605.8 595.4 Q601.5 598.2 594 597.9 Q592.6 591 593.7 583.8 Z" fill="#2d2d2d"/>
<rect x="622.4" y="582.5" width="19.4" height="4.2" fill="#8f8f8f"/>
<rect x="622.4" y="595.3" width="19.4" height="4.1" fill="#8f8f8f"/>
<rect x="616" y="586.5" width="26" height="9.0" fill="#232c44"/>
<path d="M641.4 582.4 Q649 584 648.9 591 Q649 598 641.4 599.4 Z" fill="#EFAE1A"/>
<path d="M641.4 586.5 Q646.8 587.4 646.8 591 Q646.8 594.6 641.4 595.5 Z" fill="#232c44"/>
<path d="M613.6 591 Q616 588.4 620 588.2 L642 588.2 Q645 588.9 645 591 Q645 593.2 642 593.9 L620 593.9 Q616 593.6 613.6 591 Z" fill="#FBB716"/>
<rect x="590.2" y="585.2" width="3.6" height="11.4" rx="1.2" fill="#9a9a9a"/>
<rect x="589.6" y="586.4" width="1.2" height="9" rx="0.6" fill="#FBB716"/>
<circle cx="603.6" cy="591" r="1.7" fill="#5a5a5a"/>
<circle cx="608.4" cy="590.6" r="1.5" fill="#4a4a4a"/>
</g>
<polygon points="715.30,630.00 782.00,640.50 786.70,921.90 721.90,872.50" fill="#D9D9D9" stroke="#111" stroke-width="1.4" stroke-linejoin="round" />
<polygon points="715.30,630.00 894.70,622.50 979.80,632.20 782.00,640.50" fill="#fff" stroke="#111" stroke-width="1.4" stroke-linejoin="round" />
<polygon points="782.00,640.50 979.80,632.20 971.70,886.25 786.70,921.90" fill="#fff" stroke="#111" stroke-width="1.4" stroke-linejoin="round" />
<polygon points="788.30,647.50 973.30,638.10 966.90,881.90 792.20,916.00" fill="#fff" stroke="#111" stroke-width="1.4" stroke-linejoin="round" />
<polyline points="789.80,712.00 971.25,698.30" fill="none" stroke="#111" stroke-width="1.4" stroke-linejoin="round" stroke-linecap="round" />
<polygon points="791.00,776.90 969.70,756.10 968.40,815.50 791.40,838.40" fill="#FBB716" stroke="#111" stroke-width="1.4" stroke-linejoin="round" />
<circle cx="892" cy="197.2" r="20" fill="#FBB716"/>
<text class="num" transform="translate(895.3 221.1) scale(1.1 1)" x="0" y="0" font-size="49" text-anchor="middle">1</text>
<circle cx="318.3" cy="392" r="20" fill="#FBB716"/>
<text class="num" transform="translate(321 410) scale(1.24 1)" x="0" y="0" font-size="40.5" text-anchor="middle">2</text>
<circle cx="107.9" cy="930.9" r="19.6" fill="#FBB716"/>
<text class="num" transform="translate(110.8 947.5) scale(1.2 1)" x="0" y="0" font-size="40.5" text-anchor="middle">3</text>
<circle cx="441" cy="859.4" r="19.4" fill="#FBB716"/>
<text class="num" transform="translate(444.4 877.5) scale(1.24 1)" x="0" y="0" font-size="40.5" text-anchor="middle">4</text>
<circle cx="735.6" cy="540.4" r="19.4" fill="#FBB716"/>
<text class="num" transform="translate(738.2 559.4) scale(1.08 1)" x="0" y="0" font-size="40.5" text-anchor="middle">5</text>
</svg>
</body></html>
